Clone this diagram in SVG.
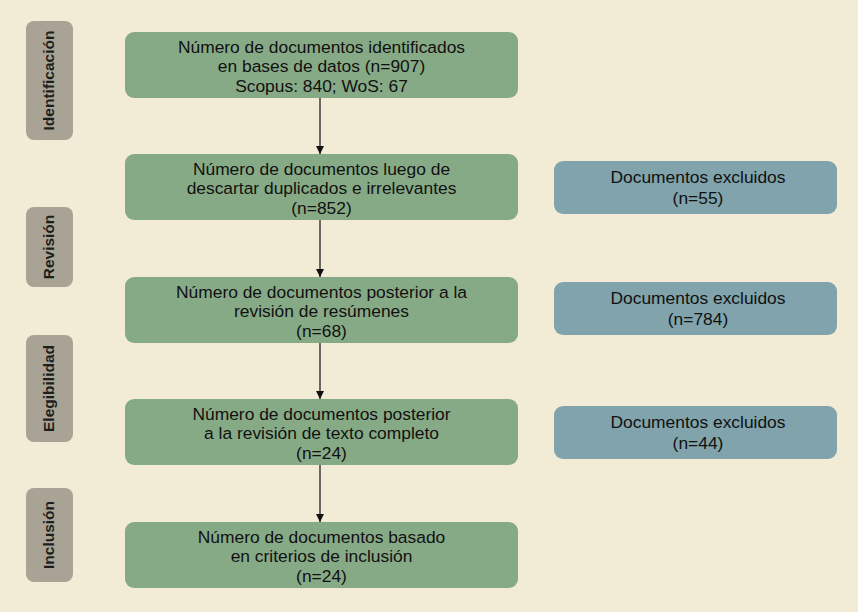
<svg xmlns="http://www.w3.org/2000/svg" width="858" height="612" viewBox="0 0 858 612">
<defs>
<style>
.bg{fill:#f2ecd6}
.side rect{fill:#a8a394}
.side text{font-family:"Liberation Sans",Arial,sans-serif;font-size:15.5px;font-weight:bold;fill:#1e1e1e;text-anchor:middle}
.main rect{fill:#87aa86}
.excl rect{fill:#80a3ac}
.node text{font-family:"Liberation Sans",Arial,sans-serif;font-size:17.4px;fill:#111;text-anchor:middle}
.conn line{stroke:#111;stroke-width:1.2;marker-end:url(#ah)}
</style>
<marker id="ah" viewBox="0 0 10 10" refX="10" refY="5" markerWidth="8" markerHeight="8" markerUnits="userSpaceOnUse" orient="auto">
<path d="M0,0 L10,5 L0,10 z" fill="#111"/>
</marker>
</defs>
<rect class="bg" x="0" y="0" width="858" height="612"/>

<g id="side-identificacion" class="side"><rect x="26" y="21" width="47" height="119" rx="8"/><text transform="translate(54,80.5) rotate(-90)">Identificación</text></g>
<g id="side-revision" class="side"><rect x="26" y="207" width="47" height="80" rx="8"/><text transform="translate(54,247) rotate(-90)">Revisión</text></g>
<g id="side-elegibilidad" class="side"><rect x="26" y="335" width="47" height="107" rx="8"/><text transform="translate(54,388.5) rotate(-90)">Elegibilidad</text></g>
<g id="side-inclusion" class="side"><rect x="26" y="488" width="47" height="94" rx="8"/><text transform="translate(54,535) rotate(-90)">Inclusión</text></g>

<g id="conn" class="conn">
<line x1="320" y1="98" x2="320" y2="154"/>
<line x1="320" y1="220" x2="320" y2="277"/>
<line x1="320" y1="343" x2="320" y2="399"/>
<line x1="320" y1="465" x2="320" y2="522"/>
</g>

<g id="box1" class="node main"><rect x="125" y="32" width="393" height="66" rx="9"/>
<text x="321.5" y="52.5">Número de documentos identificados</text>
<text x="321.5" y="72">en bases de datos (n=907)</text>
<text x="321.5" y="91.5">Scopus: 840; WoS: 67</text></g>

<g id="box2" class="node main"><rect x="125" y="154" width="393" height="66" rx="9"/>
<text x="321.5" y="174.5">Número de documentos luego de</text>
<text x="321.5" y="194">descartar duplicados e irrelevantes</text>
<text x="321.5" y="213.5">(n=852)</text></g>

<g id="box3" class="node main"><rect x="125" y="277" width="393" height="66" rx="9"/>
<text x="321.5" y="297.5">Número de documentos posterior a la</text>
<text x="321.5" y="317">revisión de resúmenes</text>
<text x="321.5" y="336.5">(n=68)</text></g>

<g id="box4" class="node main"><rect x="125" y="399" width="393" height="66" rx="9"/>
<text x="321.5" y="419.5">Número de documentos posterior</text>
<text x="321.5" y="439">a la revisión de texto completo</text>
<text x="321.5" y="458.5">(n=24)</text></g>

<g id="box5" class="node main"><rect x="125" y="522" width="393" height="66" rx="9"/>
<text x="321.5" y="542.5">Número de documentos basado</text>
<text x="321.5" y="562">en criterios de inclusión</text>
<text x="321.5" y="581.5">(n=24)</text></g>

<g id="excl1" class="node excl"><rect x="554" y="161" width="283" height="53" rx="9"/>
<text x="698" y="183">Documentos excluidos</text>
<text x="698" y="203.5">(n=55)</text></g>

<g id="excl2" class="node excl"><rect x="554" y="282" width="283" height="53" rx="9"/>
<text x="698" y="304">Documentos excluidos</text>
<text x="698" y="324.5">(n=784)</text></g>

<g id="excl3" class="node excl"><rect x="554" y="406" width="283" height="53" rx="9"/>
<text x="698" y="428">Documentos excluidos</text>
<text x="698" y="448.5">(n=44)</text></g>
</svg>
